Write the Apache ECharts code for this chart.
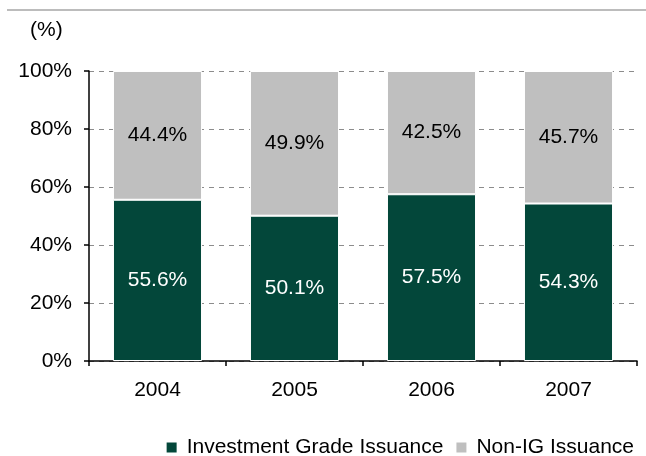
<!DOCTYPE html>
<html>
<head>
<meta charset="utf-8">
<script src="https://cdn.jsdelivr.net/npm/echarts@6/dist/echarts.min.js"></script>
<style>
  html, body { margin: 0; padding: 0; background: #fff; }
  #chart { width: 646px; height: 456px; }
</style>
</head>
<body>
<div id="chart"></div>
<script>
// Issuance mix by year (% of total)
const years = ['2004', '2005', '2006', '2007'];
const investmentGrade = [55.6, 50.1, 57.5, 54.3];
const nonIG = [44.4, 49.9, 42.5, 45.7];
const yTicks = [0, 20, 40, 60, 80, 100];

const FONT = '"Liberation Sans", Arial, sans-serif';
const GREEN = '#03473a';
const GREY = '#bfbfbf';
const FS = 21;

const chart = echarts.init(document.getElementById('chart'), null, { renderer: 'canvas' });

chart.setOption({
  animation: false,
  textStyle: { fontFamily: FONT },
  grid: { left: 89, right: 9, top: 71, bottom: 95 },
  graphic: [
    {
      type: 'line',
      shape: { x1: 7, y1: 10, x2: 646, y2: 10 },
      style: { stroke: '#bcbcbc', lineWidth: 2 }
    },
    {
      type: 'text',
      x: 30, y: 30,
      style: { text: '(%)', font: FS + 'px ' + FONT, fill: '#000', textVerticalAlign: 'middle' }
    }
  ],
  legend: {
    right: 12,
    top: 437,
    padding: 0,
    itemWidth: 12,
    itemHeight: 12,
    itemGap: 11,
    icon: 'rect',
    textStyle: { fontFamily: FONT, fontSize: FS, color: '#000', padding: [0, 0, 0, 4] },
    data: ['Investment Grade Issuance', 'Non-IG Issuance']
  },
  xAxis: {
    type: 'category',
    data: years,
    axisLine: { lineStyle: { color: '#000', width: 1.5 } },
    axisTick: { show: true, length: 5, lineStyle: { color: '#000', width: 1.5 } },
    axisLabel: { color: '#000', fontSize: FS, fontFamily: FONT, margin: 19 }
  },
  yAxis: {
    type: 'value',
    min: yTicks[0],
    max: yTicks[yTicks.length - 1],
    interval: 20,
    axisLine: { show: true, lineStyle: { color: '#000', width: 1.5 } },
    axisTick: { show: true, length: 5, lineStyle: { color: '#000', width: 1.5 } },
    axisLabel: { color: '#000', fontSize: FS, fontFamily: FONT, margin: 17, formatter: '{value}%' },
    splitLine: { show: true, lineStyle: { color: '#8c8c8c', type: [5, 5], width: 1 } }
  },
  series: [
    {
      name: 'Investment Grade Issuance',
      type: 'bar',
      stack: 'total',
      data: investmentGrade,
      barWidth: '65%',
      itemStyle: { color: GREEN, borderColor: '#fff', borderWidth: 1 },
      label: {
        show: true, position: 'inside', color: '#fff', fontSize: FS, fontFamily: FONT,
        formatter: p => p.value.toFixed(1) + '%'
      }
    },
    {
      name: 'Non-IG Issuance',
      type: 'bar',
      stack: 'total',
      data: nonIG,
      barWidth: '65%',
      itemStyle: { color: GREY, borderColor: '#fff', borderWidth: 1 },
      label: {
        show: true, position: 'inside', color: '#000', fontSize: FS, fontFamily: FONT,
        formatter: p => p.value.toFixed(1) + '%'
      }
    }
  ]
});
</script>
</body>
</html>
